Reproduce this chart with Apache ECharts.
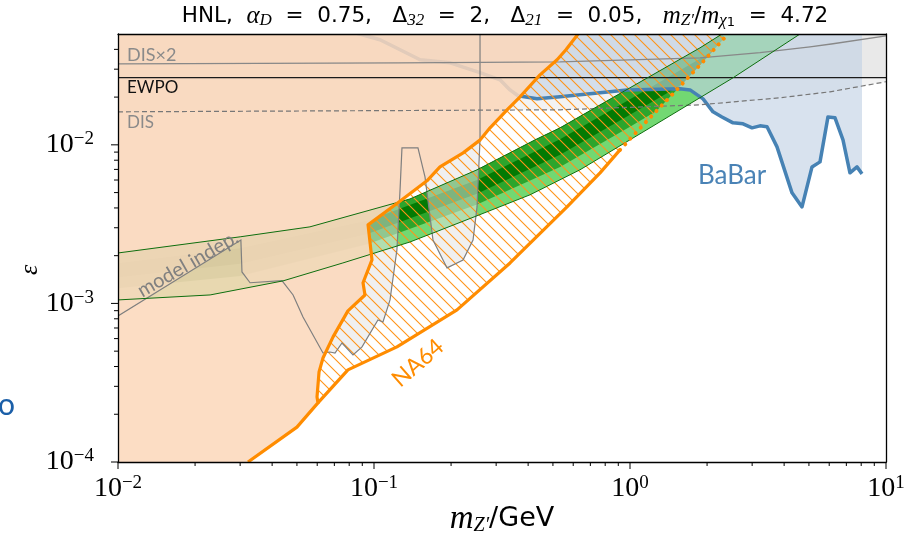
<!DOCTYPE html>
<html><head><meta charset="utf-8">
<script src="https://cdn.jsdelivr.net/npm/echarts@6/dist/echarts.min.js"></script>
<style>html,body{margin:0;padding:0;background:#fff}#c{width:912px;height:540px}</style>
</head><body><div id="c"></div>
<script>
const X_MIN = 0.01, X_MAX = 10, Y_MIN = 1e-4, Y_MAX = 0.05;
const xMajorTicks = [0.01, 0.1, 1, 10];
const xMinorTicks = [0.02,0.03,0.04,0.05,0.06,0.07,0.08,0.09,0.2,0.3,0.4,0.5,0.6,0.7,0.8,0.9,2,3,4,5,6,7,8,9];
const yMajorTicks = [1e-4, 1e-3, 1e-2];
const yMinorTicks = [2e-4,3e-4,4e-4,5e-4,6e-4,7e-4,8e-4,9e-4,2e-3,3e-3,4e-3,5e-3,6e-3,7e-3,8e-3,9e-3,0.02,0.03,0.04];

const na64Left = [[0.0322,1.00e-4],[0.0500,1.66e-4],[0.0604,2.36e-4],[0.0599,2.57e-4],[0.0610,3.70e-4],[0.0632,4.53e-4],[0.0692,6.15e-4],[0.0791,8.97e-4],[0.0922,1.13e-3],[0.0906,1.35e-3],[0.0982,1.88e-3],[0.0948,3.13e-3],[0.124,4.31e-3],[0.161,5.93e-3],[0.181,7.26e-3],[0.223,8.90e-3],[0.260,1.075e-2],[0.284,1.28e-2],[0.331,1.66e-2],[0.372,2.01e-2],[0.445,2.76e-2],[0.519,3.44e-2],[0.562,3.98e-2],[0.627,5.0e-2]];
const na64Right = [[0.0604,2.36e-4],[0.0791,3.81e-4],[0.1229,5.32e-4],[0.211,9.10e-4],[0.340,1.80e-3],[0.5675,4.06e-3],[0.764,6.66e-3],[0.914,9.30e-3]];
const na64Dotted = [[0.914,9.30e-3],[1.165,1.417e-2],[1.485,2.13e-2],[1.894,3.24e-2],[2.415,5.0e-2]];
const grayLimit = [[0.01,8.34e-4],[0.0302,2.51e-3],[0.0305,1.58e-3],[0.0328,1.35e-3],[0.0437,1.39e-3],[0.0483,1.13e-3],[0.0528,8.22e-4],[0.0632,4.87e-4],[0.0673,4.94e-4],[0.0704,4.87e-4],[0.0750,5.63e-4],[0.0828,4.73e-4],[0.0898,5.32e-4],[0.1036,7.87e-4],[0.1084,7.64e-4],[0.1155,1.052e-3],[0.1229,2.18e-3],[0.1264,5.20e-3],[0.1286,9.57e-3],[0.1485,9.57e-3],[0.1582,6.28e-3],[0.1700,2.51e-3],[0.1929,1.675e-3],[0.2227,1.88e-3],[0.2437,2.51e-3],[0.2526,4.06e-3],[0.2595,1.075e-2],[0.2595,5.0e-2]];
const bandUpper = [[0.01,2.08e-3],[0.030,2.63e-3],[0.0562,3.04e-3],[0.1382,4.56e-3],[0.2526,6.96e-3],[0.4256,1.075e-2],[0.533,1.28e-2],[1.0,2.29e-2],[1.877,4.09e-2],[2.287,5.0e-2]];
const bandLower = [[0.01,1.052e-3],[0.0229,1.131e-3],[0.0441,1.387e-3],[0.0756,1.80e-3],[0.1382,2.44e-3],[0.2526,3.57e-3],[0.4068,4.84e-3],[0.6377,6.96e-3],[1.197,1.28e-2],[2.526,2.647e-2],[4.614,5.0e-2]];
const bandMidLower = [[0.01,1.247e-3],[0.030,1.49e-3],[0.0948,2.37e-3],[0.2526,4.21e-3],[0.533,7.26e-3],[1.0,1.30e-2],[1.877,2.373e-2],[2.690,3.40e-2]];
const bandCoreUpper = [[0.01,1.79e-3],[0.030,2.23e-3],[0.0948,3.33e-3],[0.2526,6.00e-3],[0.533,1.085e-2],[1.0,1.94e-2],[1.877,3.49e-2],[2.690,4.96e-2]];
const bandCoreLower = [[0.01,1.46e-3],[0.030,1.78e-3],[0.0948,2.75e-3],[0.2526,4.91e-3],[0.533,8.65e-3],[1.0,1.55e-2],[1.877,2.80e-2],[2.690,4.00e-2]];
const babar = [[0.0843,0.0509],[0.1055,0.0460],[0.1264,0.0398],[0.1513,0.0344],[0.1982,0.0329],[0.2595,0.0285],[0.3106,0.0257],[0.3398,0.0222],[0.3652,0.0204],[0.4333,0.0195],[0.533,0.0201],[0.7636,0.0213],[0.9734,0.0222],[1.568,0.0226],[1.716,0.0222],[1.929,0.0195],[2.110,0.01615],[2.287,0.0150],[2.526,0.01376],[2.764,0.01357],[2.997,0.0128],[3.219,0.01318],[3.430,0.0130],[3.752,0.00971],[4.294,0.00498],[4.698,0.00406],[5.140,0.00726],[5.524,0.00781],[5.934,0.0150],[6.322,0.0148],[6.792,0.01075],[7.232,0.00666],[7.703,0.00726],[8.058,0.00656]];
const dis2Line = [[0.01,0.0324],[0.1264,0.0329],[0.533,0.0334],[1.877,0.0354],[3.219,0.0381],[5.05,0.0415],[6.21,0.0434],[10,0.0487]];
const disLine = [[0.01,0.01615],[0.533,0.01663],[1.877,0.01788],[3.854,0.0198],[6.043,0.0216],[10,0.0250]];
const ewpoEps = 0.0265;

function makeHatch() {
  const s = 12, c = document.createElement('canvas');
  c.width = s; c.height = s;
  const g = c.getContext('2d');
  g.strokeStyle = '#ff9419'; g.lineWidth = 1.1;
  g.beginPath();
  g.moveTo(-2, -2); g.lineTo(s + 2, s + 2);
  g.moveTo(-2, s - 2); g.lineTo(2, s + 2);
  g.moveTo(s - 2, -2); g.lineTo(s + 2, 2);
  g.stroke();
  return c;
}

let zc = 0;
function poly(pts, style, clipPts) {
  const z2 = ++zc;
  return { type: 'custom', coordinateSystem: 'cartesian2d', clip: true, silent: true, animation: false,
    data: [[X_MIN, Y_MIN]],
    renderItem: (p, api) => {
      const el = { type: 'polygon', z2, shape: { points: pts.map(q => api.coord(q)) }, style };
      if (!clipPts) return el;
      return { type: 'group', clipPath: { type: 'polygon', shape: { points: clipPts.map(q => api.coord(q)) } }, children: [el] };
    } };
}
function line(pts, style) {
  const z2 = ++zc;
  return { type: 'custom', coordinateSystem: 'cartesian2d', clip: true, silent: true, animation: false,
    data: [[X_MIN, Y_MIN]],
    renderItem: (p, api) => ({ type: 'polyline', z2, shape: { points: pts.map(q => api.coord(q)) }, style: Object.assign({ fill: null }, style) }) };
}
function ticks(vals, axis, len) {
  return { type: 'custom', coordinateSystem: 'cartesian2d', clip: false, silent: true, animation: false, z: 20,
    data: vals.map(v => axis === 'x' ? [v, Y_MIN] : [X_MIN, v]),
    renderItem: (p, api) => {
      const c = api.coord([api.value(0), api.value(1)]);
      const s = axis === 'x' ? { x1: c[0], y1: c[1], x2: c[0], y2: c[1] + len } : { x1: c[0], y1: c[1], x2: c[0] - len, y2: c[1] };
      return { type: 'line', shape: s, style: { stroke: '#000', lineWidth: 1 } };
    } };
}

const peachPoly = [[X_MIN, Y_MIN]].concat(na64Left, [[X_MIN, Y_MAX]]);
const hatchPoly = na64Left.slice(2).concat(na64Dotted.slice().reverse(), na64Right.slice().reverse());
const envelope = [[X_MIN, Y_MIN]].concat(na64Left.slice(0, 2), na64Right, na64Dotted.slice(1), [[X_MIN, Y_MAX]]);
const grayPoly = grayLimit.concat([[X_MIN, Y_MAX]]);
const bandPoly = bandUpper.concat(bandLower.slice().reverse());
const midPoly = bandUpper.concat(bandMidLower.slice().reverse());
const corePoly = bandCoreUpper.concat(bandCoreLower.slice().reverse());
const babarPoly = babar.concat([[babar[babar.length - 1][0], Y_MAX]]);
const disPoly = disLine.concat([[X_MAX, Y_MAX], [X_MIN, Y_MAX]]);
const ewpoLine = [[X_MIN, ewpoEps], [X_MAX, ewpoEps]];
const ewpoPoly = ewpoLine.concat([[X_MAX, Y_MAX], [X_MIN, Y_MAX]]);

const series = [
  poly(disPoly, { fill: 'rgba(190,190,190,0.18)' }),
  poly(ewpoPoly, { fill: 'rgba(190,190,190,0.18)' }),
  poly(bandPoly, { fill: '#72d872' }),
  poly(midPoly, { fill: '#2ca52c' }, envelope),
  poly(corePoly, { fill: '#037a03' }, envelope),
  poly(grayPoly, { fill: 'rgba(228,228,228,0.55)' }),
  poly(babarPoly, { fill: 'rgba(194,210,228,0.64)' }),
  line(babar, { stroke: '#4682b4', lineWidth: 3.5, lineJoin: 'round' }),
  poly(peachPoly, { fill: 'rgba(251,215,186,0.86)' }),
  poly(hatchPoly, { fill: { image: makeHatch(), repeat: 'repeat' } }),
  line(grayLimit, { stroke: '#7f7f7f', lineWidth: 1.2 }),
  line(dis2Line, { stroke: '#888', lineWidth: 1.3 }),
  line(ewpoLine, { stroke: '#1a1a1a', lineWidth: 1.3 }),
  line(disLine, { stroke: '#777', lineWidth: 1.2, lineDash: [5, 3] }),
  line(bandUpper, { stroke: '#0e6e0e', lineWidth: 1 }),
  line(bandLower, { stroke: '#0e6e0e', lineWidth: 1 }),
  line(na64Left, { stroke: '#ff8c00', lineWidth: 3.2, lineJoin: 'round' }),
  line(na64Right, { stroke: '#ff8c00', lineWidth: 3.2, lineJoin: 'round' }),
  line(na64Dotted, { stroke: '#ff8c00', lineWidth: 4, lineCap: 'round', lineDash: [0.1, 7.5] }),
  ticks(xMajorTicks, 'x', 7), ticks(xMinorTicks, 'x', 4),
  ticks(yMajorTicks, 'y', 7), ticks(yMinorTicks, 'y', 4)
];

function powLabel(v) {
  const e = Math.log10(v), r = Math.round(e);
  if (Math.abs(e - r) > 1e-6) return '';
  return '{b|10}{s|' + (r < 0 ? '\u2212' + (-r) : r) + '}';
}
const labRich = {
  b: { fontFamily: 'Liberation Serif', fontSize: 28, lineHeight: 30, color: '#000' },
  s: { fontFamily: 'Liberation Serif', fontSize: 19, lineHeight: 14, verticalAlign: 'top', color: '#000' }
};

const serif = 'Liberation Serif';
const sans = 'DejaVu Sans';
const option = {
  animation: false,
  grid: { left: 118, right: 26, top: 34, bottom: 78, containLabel: false },
  xAxis: [{ type: 'log', logBase: 10, min: X_MIN, max: X_MAX, z: 30,
    axisLine: { show: true, lineStyle: { color: '#000', width: 1.3 } },
    axisTick: { show: false }, splitLine: { show: false }, minorTick: { show: false },
    axisLabel: { margin: 12, formatter: powLabel, rich: labRich } },
    { type: 'log', logBase: 10, min: X_MIN, max: X_MAX, position: 'top', z: 30,
    axisLine: { show: true, onZero: false, lineStyle: { color: '#000', width: 1.3 } },
    axisTick: { show: false }, axisLabel: { show: false }, splitLine: { show: false } }],
  yAxis: [{ type: 'log', logBase: 10, min: Y_MIN, max: Y_MAX, z: 30,
    axisLine: { show: true, lineStyle: { color: '#000', width: 1.3 } },
    axisTick: { show: false }, splitLine: { show: false },
    axisLabel: { margin: 24, formatter: powLabel, rich: labRich, showMaxLabel: false } },
    { type: 'log', logBase: 10, min: Y_MIN, max: Y_MAX, position: 'right', z: 30,
    axisLine: { show: true, onZero: false, lineStyle: { color: '#000', width: 1.3 } },
    axisTick: { show: false }, axisLabel: { show: false }, splitLine: { show: false } }],
  series: series,
  graphic: [
    { type: 'text', x: 505, y: 16, style: { text: 'HNL,  {i|\u03b1}{sub|D}  =  0.75,   \u0394{sub|32}  =  2,   \u0394{sub|21}  =  0.05,   {i|m}{sub|Z\u2032}/{i|m}{sub|\u03c7}{subn|1}  =  4.72',
      fontFamily: sans, fontSize: 21.5, lineHeight: 26, align: 'center', verticalAlign: 'middle', fill: '#000',
      rich: { i: { fontFamily: serif, fontStyle: 'italic', fontSize: 25, lineHeight: 26 },
              sub: { fontFamily: serif, fontStyle: 'italic', fontSize: 17, lineHeight: 14, verticalAlign: 'bottom' },
              subn: { fontFamily: sans, fontSize: 13, lineHeight: 9, verticalAlign: 'bottom' } } } },
    { type: 'text', x: 502, y: 519, style: { text: '{i|m}{sub|Z\u2032}/GeV', fontFamily: sans, fontSize: 27, lineHeight: 34,
      align: 'center', verticalAlign: 'middle', fill: '#000',
      rich: { i: { fontFamily: serif, fontStyle: 'italic', fontSize: 33, lineHeight: 34 },
              sub: { fontFamily: serif, fontStyle: 'italic', fontSize: 20, lineHeight: 18, verticalAlign: 'bottom' } } } },
    { type: 'text', x: 30, y: 270, rotation: Math.PI / 2, style: { text: '\u03b5', fontFamily: serif, fontStyle: 'italic', fontSize: 26, align: 'center', verticalAlign: 'middle', fill: '#000' } },
    { type: 'text', x: 127, y: 55, z: 40, style: { text: 'DIS\u00d72', fontFamily: 'Lato', fontSize: 18, verticalAlign: 'middle', fill: '#8a8a8a' } },
    { type: 'text', x: 127, y: 88, z: 40, style: { text: 'EWPO', fontFamily: 'Lato', fontSize: 17, verticalAlign: 'middle', fill: '#111' } },
    { type: 'text', x: 127, y: 123, z: 40, style: { text: 'DIS', fontFamily: 'Lato', fontSize: 17, verticalAlign: 'middle', fill: '#8a8a8a' } },
    { type: 'text', x: 698, y: 176, z: 40, style: { text: 'BaBar', fontFamily: 'Lato', fontSize: 26, verticalAlign: 'middle', fill: '#4a83b6' } },
    { type: 'text', x: 418, y: 363, z: 40, rotation: 41 * Math.PI / 180, style: { text: 'NA64', fontFamily: 'Lato', fontSize: 23, align: 'center', verticalAlign: 'middle', fill: '#ff8c00' } },
    { type: 'text', x: 188, y: 264, z: 40, rotation: 30 * Math.PI / 180, style: { text: 'model indep.', fontFamily: 'Lato', fontSize: 20, align: 'center', verticalAlign: 'middle', fill: '#808080' } },
    { type: 'text', x: -2, y: 405, z: 40, style: { text: 'o', fontFamily: 'Lato', fontSize: 30, verticalAlign: 'middle', fill: '#1b5fa8' } }
  ]
};
const chart = echarts.init(document.getElementById('c'));
chart.setOption(option);
</script></body></html>
